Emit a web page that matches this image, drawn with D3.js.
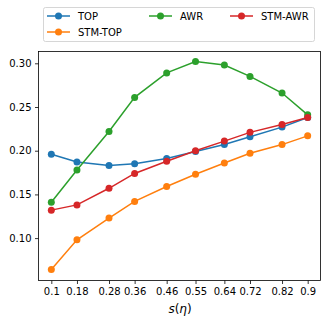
<!DOCTYPE html>
<html>
<head>
<meta charset="utf-8">
<script src="https://cdn.jsdelivr.net/npm/d3@7"></script>
<style>
  body { margin: 0; background: #fff; }
  text { font-family: "DejaVu Sans", sans-serif; fill: #000; }
</style>
</head>
<body>
<div id="chart"></div>
<script>
// data
let sValues = [0.1, 0.18, 0.28, 0.36, 0.46, 0.55, 0.64, 0.72, 0.82, 0.9];
let tickLabels = ["0.1", "0.18", "0.28", "0.36", "0.46", "0.55", "0.64", "0.72", "0.82", "0.9"];
let yTicks = [0.10, 0.15, 0.20, 0.25, 0.30];

let topVals    = [0.196, 0.187, 0.183, 0.185, 0.191, 0.199, 0.207, 0.216, 0.227, 0.238];
let stmTopVals = [0.064, 0.098, 0.123, 0.142, 0.159, 0.173, 0.186, 0.197, 0.207, 0.217];
let awrVals    = [0.141, 0.178, 0.222, 0.261, 0.289, 0.302, 0.298, 0.285, 0.266, 0.241];
let stmAwrVals = [0.132, 0.138, 0.157, 0.174, 0.188, 0.200, 0.211, 0.221, 0.230, 0.238];

let seriesNames = ["TOP", "STM-TOP", "AWR", "STM-AWR"];
let seriesColors = ["#1f77b4", "#ff7f0e", "#2ca02c", "#d62728"];
let seriesData = [topVals, stmTopVals, awrVals, stmAwrVals];

let width = 332, height = 324;
let plot = {left: 38.5, right: 320.5, top: 51.5, bottom: 280.5};

let svg = d3.select("#chart").append("svg")
    .attr("width", width)
    .attr("height", height);

let x = d3.scaleLinear()
    .domain([0.06, 0.94])
    .range([plot.left, plot.right]);

let y = d3.scaleLinear()
    .domain([0.0515, 0.3135])
    .range([plot.bottom, plot.top]);

// axes
let xAxis = svg.append("g")
    .attr("transform", `translate(0, ${plot.bottom})`)
    .call(d3.axisBottom(x).tickValues(sValues).tickFormat((d, i) => tickLabels[i]).tickSizeOuter(0).tickSize(3.5).tickPadding(3.5));

let yAxis = svg.append("g")
    .attr("transform", `translate(${plot.left}, 0)`)
    .call(d3.axisLeft(y).tickValues(yTicks).tickFormat(d3.format(".2f")).tickSizeOuter(0).tickSize(3.5).tickPadding(3.5));

[xAxis, yAxis].forEach(a => {
    a.select(".domain").remove();
    a.selectAll("text").style("font-size", "10px").attr("font-family", "DejaVu Sans");
    a.selectAll("line").attr("stroke", "#000").attr("stroke-width", 0.8);
});

// lines + markers
let line = d3.line()
    .x((d, i) => x(sValues[i]))
    .y(d => y(d));

seriesData.forEach((vals, k) => {
    svg.append("path")
        .datum(vals)
        .attr("fill", "none")
        .attr("stroke", seriesColors[k])
        .attr("stroke-width", 1.5)
        .attr("d", line);

    svg.selectAll(".dot" + k)
        .data(vals)
        .enter().append("circle")
        .attr("class", "dot" + k)
        .attr("cx", (d, i) => x(sValues[i]))
        .attr("cy", d => y(d))
        .attr("r", 3.5)
        .attr("fill", seriesColors[k]);
});

// frame
svg.append("rect")
    .attr("x", plot.left)
    .attr("y", plot.top)
    .attr("width", plot.right - plot.left)
    .attr("height", plot.bottom - plot.top)
    .attr("fill", "none")
    .attr("stroke", "#000")
    .attr("stroke-width", 0.8);

// x label s(η)
let xlab = svg.append("text")
    .attr("x", (plot.left + plot.right) / 2 + 0.5)
    .attr("y", 312.5)
    .attr("text-anchor", "middle")
    .style("font-size", "12px");
xlab.append("tspan").attr("font-style", "italic").text("s");
xlab.append("tspan").text("(");
xlab.append("tspan").attr("font-style", "italic").text("η");
xlab.append("tspan").text(")");

// legend
let legend = svg.append("g");
legend.append("rect")
    .attr("x", 43.5)
    .attr("y", 7.5)
    .attr("width", 271)
    .attr("height", 34)
    .attr("rx", 2)
    .attr("fill", "#fff")
    .attr("fill-opacity", 0.8)
    .attr("stroke", "#ccc")
    .attr("stroke-width", 0.8);

// column-major: TOP, STM-TOP | AWR | STM-AWR
let legendPos = [[47, 16], [47, 32], [149, 16], [230, 16]];
seriesNames.forEach((name, k) => {
    let [lx, ly] = legendPos[k];
    let g = legend.append("g").attr("transform", `translate(${lx}, ${ly})`);
    g.append("line")
        .attr("x1", 0).attr("x2", 23)
        .attr("y1", 0).attr("y2", 0)
        .attr("stroke", seriesColors[k])
        .attr("stroke-width", 1.5);
    g.append("circle")
        .attr("cx", 11.5).attr("cy", 0)
        .attr("r", 3.5)
        .attr("fill", seriesColors[k]);
    g.append("text")
        .attr("x", 31)
        .attr("y", 3.6)
        .style("font-size", "10px")
        .text(name);
});
</script>
</body>
</html>
